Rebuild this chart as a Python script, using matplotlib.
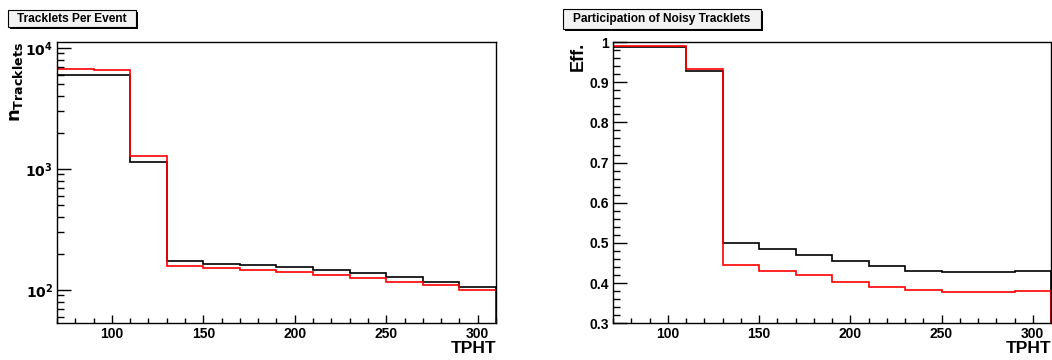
import numpy as np
import matplotlib.pyplot as plt
from matplotlib.patches import Rectangle
from matplotlib.ticker import MultipleLocator, LogLocator, NullFormatter, FuncFormatter

plt.rcParams['font.family'] = ['Liberation Sans', 'DejaVu Sans']
plt.rcParams['font.weight'] = 'bold'

# bin edges in TPHT
edges = np.arange(70, 311, 20)

# tracklets per event (log scale)
ntrk_black = [5950, 5950, 1148, 173, 165, 162, 154, 147, 138, 128, 117, 106]
ntrk_red = [6740, 6580, 1288, 158, 151, 147, 141, 134, 126, 117, 109, 100]

# participation of noisy tracklets
eff_black = [0.987, 0.987, 0.928, 0.499, 0.485, 0.470, 0.455, 0.443, 0.431, 0.428, 0.428, 0.431]
eff_red = [0.990, 0.990, 0.932, 0.445, 0.430, 0.419, 0.404, 0.391, 0.383, 0.377, 0.377, 0.380]

fig = plt.figure(figsize=(10.52, 3.6), dpi=100)
ax1 = fig.add_axes([57 / 1052, 1 - 323.3 / 360, (496 - 57) / 1052, (323.3 - 42) / 360])
ax2 = fig.add_axes([613 / 1052, 1 - 323.3 / 360, (1051 - 613) / 1052, (323.3 - 42) / 360])


def style_axis(ax):
    for s in ax.spines.values():
        s.set_linewidth(1.0)
    ax.tick_params(which='both', direction='in', top=False, right=False,
                   labelsize=10, width=1.0, pad=3)
    ax.tick_params(axis='y', which='major', length=10)
    ax.tick_params(axis='y', which='minor', length=5)
    ax.tick_params(axis='x', which='major', length=6)
    ax.tick_params(axis='x', which='minor', length=3.5)
    ax.set_xlim(70, 310)
    ax.xaxis.set_major_locator(MultipleLocator(50))
    ax.xaxis.set_minor_locator(MultipleLocator(10))
    ax.set_xlabel('TPHT', fontsize=12.5, fontweight='bold', loc='right', labelpad=0)


# left panel
ax1.stairs(ntrk_black, edges, color='black', lw=1.2)
ax1.stairs(ntrk_red, edges, color='red', lw=1.2)
ax1.set_yscale('log')
ax1.set_ylim(53, 11200)
ax1.yaxis.set_major_locator(LogLocator(base=10))
ax1.yaxis.set_minor_locator(LogLocator(base=10, subs=np.arange(2, 10)))
ax1.yaxis.set_minor_formatter(NullFormatter())
ax1.yaxis.set_major_formatter(FuncFormatter(lambda v, p: r'$\mathbf{10^{%d}}$' % round(np.log10(v))))
style_axis(ax1)
ax1.set_ylabel(r'$\mathbf{n_{Tracklets}}$', fontsize=13, loc='top', labelpad=0)

# right panel
ax2.stairs(eff_black, edges, color='black', lw=1.2)
ax2.stairs(eff_red, edges, color='red', lw=1.2)
ax2.set_ylim(0.3, 1.0)
ax2.yaxis.set_major_locator(MultipleLocator(0.1))
ax2.yaxis.set_minor_locator(MultipleLocator(0.02))
ax2.yaxis.set_major_formatter(FuncFormatter(lambda v, p: '1' if abs(v - 1) < 1e-6 else '%.1f' % v))
style_axis(ax2)
ax2.set_ylabel('Eff.', fontsize=13, fontweight='bold', loc='top', labelpad=2)


def title_box(x0, y0, x1, y1, text):
    W, H = 1052, 360
    fig.patches.append(Rectangle((x0 / W + 2 / W, 1 - (y1 + 2) / H), (x1 - x0) / W, (y1 - y0) / H,
                                 transform=fig.transFigure, facecolor='black', edgecolor='none'))
    fig.patches.append(Rectangle((x0 / W, 1 - y1 / H), (x1 - x0) / W, (y1 - y0) / H,
                                 transform=fig.transFigure, facecolor='#f2f2f2', edgecolor='black', lw=0.8))
    fig.text((x0 + x1) / 2 / W, 1 - (y0 + y1) / 2 / H, text, ha='center', va='center',
             fontsize=8.6, fontweight='bold')


title_box(8, 10, 136, 27, 'Tracklets Per Event')
title_box(563, 9, 761, 29, 'Participation of Noisy Tracklets')

fig.savefig('out.png', dpi=100)
